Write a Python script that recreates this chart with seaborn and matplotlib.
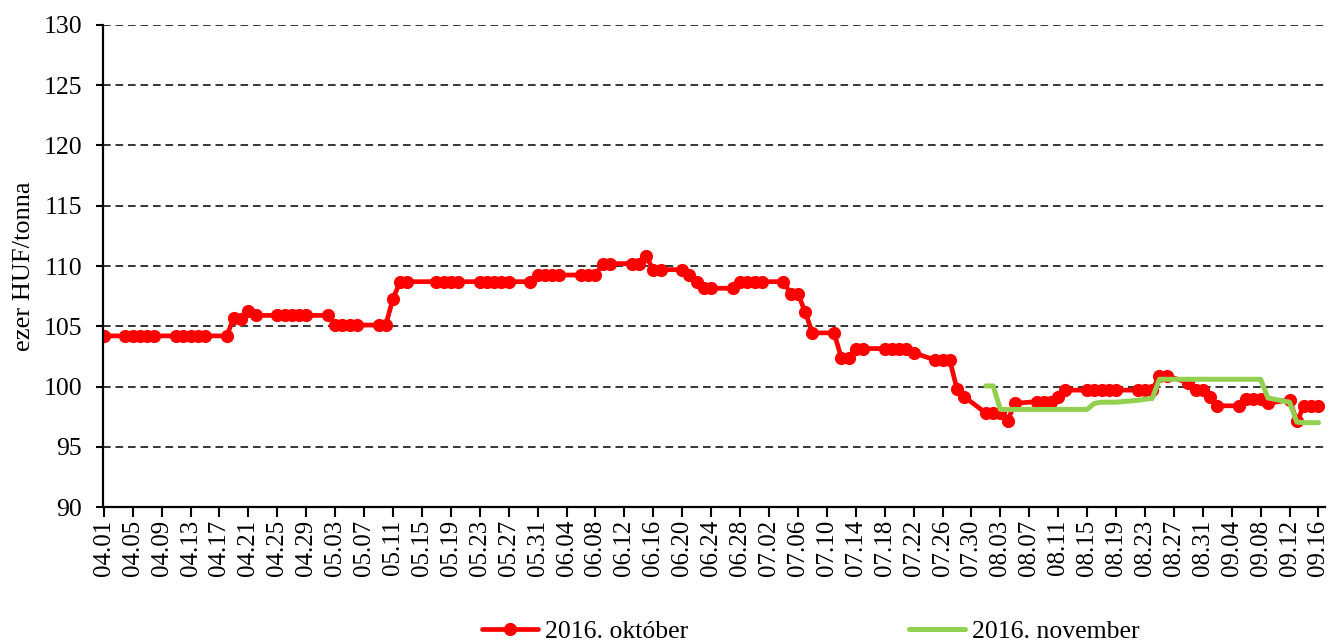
import matplotlib
matplotlib.use("Agg")
import matplotlib.pyplot as plt
import seaborn as sns
import pandas as pd
import numpy as np

# ---- data ----
red_dates = ["04.01", "04.04", "04.05", "04.06", "04.07", "04.08", "04.11", "04.12", "04.13", "04.14",
             "04.15", "04.18", "04.19", "04.20", "04.21", "04.22", "04.25", "04.26", "04.27", "04.28",
             "04.29", "05.02", "05.03", "05.04", "05.05", "05.06", "05.09", "05.10", "05.11", "05.12",
             "05.13", "05.17", "05.18", "05.19", "05.20", "05.23", "05.24", "05.25", "05.26", "05.27",
             "05.30", "05.31", "06.01", "06.02", "06.03", "06.06", "06.07", "06.08", "06.09", "06.10",
             "06.13", "06.14", "06.15", "06.16", "06.17", "06.20", "06.21", "06.22", "06.23", "06.24",
             "06.27", "06.28", "06.29", "06.30", "07.01", "07.04", "07.05", "07.06", "07.07", "07.08",
             "07.11", "07.12", "07.13", "07.14", "07.15", "07.18", "07.19", "07.20", "07.21", "07.22",
             "07.25", "07.26", "07.27", "07.28", "07.29", "08.01", "08.02", "08.03", "08.04", "08.05",
             "08.08", "08.09", "08.10", "08.11", "08.12", "08.15", "08.16", "08.17", "08.18", "08.19",
             "08.22", "08.23", "08.24", "08.25", "08.26", "08.29", "08.30", "08.31", "09.01", "09.02",
             "09.05", "09.06", "09.07", "09.08", "09.09", "09.12", "09.13", "09.14", "09.15", "09.16"]
red_values = [104.2, 104.2, 104.2, 104.2, 104.2, 104.2, 104.2, 104.2, 104.2, 104.2,
              104.2, 104.2, 105.7, 105.6, 106.3, 105.9, 105.9, 105.9, 105.9, 105.9,
              105.9, 105.9, 105.1, 105.1, 105.1, 105.1, 105.1, 105.1, 107.3, 108.7,
              108.7, 108.7, 108.7, 108.7, 108.7, 108.7, 108.7, 108.7, 108.7, 108.7,
              108.7, 109.25, 109.25, 109.25, 109.25, 109.25, 109.25, 109.25, 110.2, 110.2,
              110.2, 110.2, 110.8, 109.7, 109.7, 109.7, 109.25, 108.7, 108.15, 108.15,
              108.15, 108.7, 108.7, 108.7, 108.7, 108.7, 107.7, 107.7, 106.2, 104.45,
              104.45, 102.4, 102.4, 103.15, 103.15, 103.15, 103.15, 103.15, 103.15, 102.8,
              102.2, 102.2, 102.2, 99.8, 99.15, 97.8, 97.8, 97.8, 97.15, 98.6,
              98.75, 98.75, 98.75, 99.15, 99.7, 99.7, 99.7, 99.7, 99.7, 99.7,
              99.7, 99.7, 99.7, 100.9, 100.9, 100.3, 99.7, 99.7, 99.15, 98.4,
              98.4, 99.0, 99.0, 99.0, 98.6, 98.9, 97.1, 98.4, 98.4, 98.4]

green_dates = ["08.01", "08.02", "08.03", "08.04", "08.05", "08.08", "08.09", "08.10", "08.11", "08.12",
               "08.15", "08.16", "08.17", "08.18", "08.19", "08.22", "08.23", "08.24", "08.25", "08.26",
               "08.29", "08.30", "08.31", "09.01", "09.02", "09.05", "09.06", "09.07", "09.08", "09.09",
               "09.12", "09.13", "09.14", "09.15", "09.16"]
green_values = [100.05, 100.05, 98.1, 98.1, 98.1, 98.1, 98.1, 98.1, 98.1, 98.1,
                98.1, 98.6, 98.7, 98.7, 98.7, 98.85, 98.95, 99.0, 100.6, 100.6,
                100.6, 100.6, 100.6, 100.6, 100.6, 100.6, 100.6, 100.6, 100.6, 99.05,
                98.7, 97.05, 97.0, 97.0, 97.0]

series_names = ["2016. október", "2016. november"]
y_label = "ezer HUF/tonna"
y_ticks = [90, 95, 100, 105, 110, 115, 120, 125, 130]
x_start, x_end = "2016-04-01", "2016-09-16"

# ---- build frames ----
def to_dates(lst):
    return pd.to_datetime(["2016." + d for d in lst], format="%Y.%m.%d")

df_red = pd.DataFrame({"date": to_dates(red_dates), "value": red_values})
df_green = pd.DataFrame({"date": to_dates(green_dates), "value": green_values})

sns.set_theme(style="white")
plt.rcParams["font.family"] = ["Liberation Serif", "DejaVu Serif"]

fig = plt.figure(figsize=(13.33, 6.44), dpi=100)
ax = fig.add_axes([0.0773, 0.2127, 0.9167, 0.7485])

sns.lineplot(data=df_red, x="date", y="value", ax=ax, color="#FF0000", linewidth=3.4,
             marker="o", markersize=9.5, markeredgewidth=0, label=series_names[0])
sns.lineplot(data=df_green, x="date", y="value", ax=ax, color="#92D050", linewidth=3.6,
             label=series_names[1])

# axes
start = pd.Timestamp(x_start)
ax.set_xlim(start - pd.Timedelta(days=0.1), pd.Timestamp(x_end) + pd.Timedelta(days=0.9))
ax.set_ylim(y_ticks[0], y_ticks[-1])
ax.set_yticks(y_ticks)
ticks = pd.date_range(x_start, x_end, freq="4D")
ax.set_xticks(ticks)
ax.set_xticklabels([t.strftime("%m.%d") for t in ticks], rotation=90)

lw_grid = 1.1
ax.yaxis.grid(True, color="black", linewidth=lw_grid, linestyle=(0, (5.5 / lw_grid, 3.5 / lw_grid)))
ax.xaxis.grid(False)
ax.set_axisbelow(True)

for s in ["top", "right"]:
    ax.spines[s].set_visible(False)
for s in ["left", "bottom"]:
    ax.spines[s].set_color("black")
    ax.spines[s].set_linewidth(1.6)

ax.tick_params(axis="y", which="major", direction="out", length=5, width=1.5, color="black",
               labelsize=18.5, pad=10, left=True)
ax.tick_params(axis="x", which="major", direction="out", length=7, width=1.5, color="black",
               labelsize=18, pad=2, bottom=True)
for lab in ax.get_xticklabels() + ax.get_yticklabels():
    lab.set_color("black")

ax.set_xlabel("")
ax.set_ylabel(y_label, fontsize=19, color="black", labelpad=6)

leg = ax.legend(loc="center", bbox_to_anchor=(0.608, 0.02), bbox_transform=fig.transFigure,
                ncol=2, frameon=False, fontsize=18.5, handlelength=2.2, handletextpad=0.25,
                columnspacing=8.6, borderaxespad=0)
for t in leg.get_texts():
    t.set_color("black")

fig.savefig("out.png", dpi=100)
